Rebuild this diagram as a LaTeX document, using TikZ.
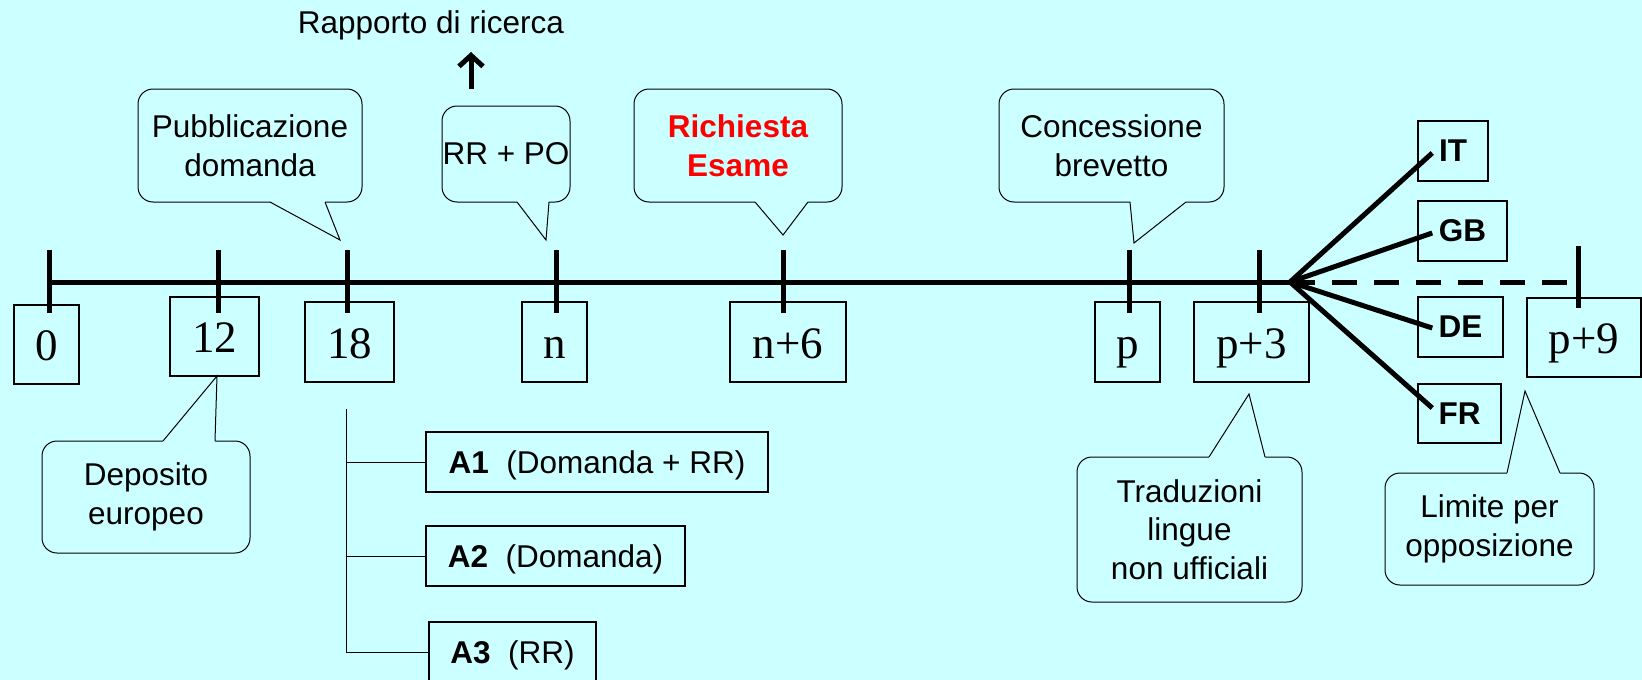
\documentclass[tikz,border=0pt]{standalone}
\usepackage{fontspec}
\setmainfont{Liberation Sans}
\newfontfamily\timesfont{Liberation Serif}
\usetikzlibrary{positioning,calc,arrows.meta}
\definecolor{sfondo}{RGB}{204,255,255}
\tikzset{
	balloon/.style={draw,line width=1pt,rounded corners=15pt,align=center,inner sep=0pt,font=\fontsize{31.5}{38.5}\selectfont},
	mese/.style={draw,line width=1.5pt,inner sep=0pt,text height=32pt,text depth=0pt,font=\timesfont\fontsize{45}{54}\selectfont},
	paese/.style={draw,line width=1.5pt,inner sep=0pt,minimum height=60pt,font=\fontsize{31.5}{38}\selectfont\bfseries},
	sigla/.style={draw,line width=1.5pt,inner sep=0pt,minimum height=60pt,text height=22pt,text depth=0pt,font=\fontsize{31.5}{38}\selectfont},
	asse/.style={line width=5pt},
	tacca/.style={line width=5pt},
	filo/.style={line width=1pt},
	ptr/.style={line width=1pt},
	freccia/.style={line width=5pt,-{Straight Barb[length=11pt,width=24pt]}}
}
% pointer of a balloon: base left, base right, tip, shift into the balloon
\newcommand{\punta}[4]{%
	\fill[sfondo] ($(#1)+(0,#4)$) -- (#1) -- (#3) -- (#2) -- ($(#2)+(0,#4)$) -- cycle;
	\draw[ptr] (#1) -- (#3) -- (#2);}
\begin{document}
\begin{tikzpicture}[x=1pt,y=-1pt]
	\fill[sfondo] (0,0) rectangle (1642,680);
	\useasboundingbox (0,0) rectangle (1642,680);

	%months
	\node[mese,minimum width=65pt,minimum height=79pt] (m0) at (46.5,344.5) {0};
	\node[mese,minimum width=89pt,minimum height=79pt] (m12) at (214.5,336.5) {12};
	\node[mese,minimum width=89pt,minimum height=80pt] (m18) at (349.5,342) {18};
	\node[mese,minimum width=65pt,minimum height=80pt] (mn) at (554.5,342) {n};
	\node[mese,minimum width=116pt,minimum height=80pt] (mn6) at (788,342) {n+6};
	\node[mese,minimum width=65pt,minimum height=80pt] (mp) at (1127.5,342) {p};
	\node[mese,minimum width=115pt,minimum height=80pt] (mp3) at (1251.5,342) {p+3};
	\node[mese,minimum width=114pt,minimum height=79pt] (mp9) at (1584,337.5) {p+9};

	%axis
	\coordinate (inizio) at (49,282);
	\coordinate (fan) at (1290,282);
	\coordinate (fine) at (1567,282);
	\draw[asse] (inizio) -- (fan);
	\draw[asse,dash pattern=on 25pt off 17pt] (fan) -- (fine);
	\foreach \x in {49,218,347,556,783,1129,1259}{
		\draw[tacca] (\x,250) -- (\x,313);
	}
	\draw[tacca] (1578,246) -- (1578,308);

	%balloons
	\node[balloon,minimum width=224pt,minimum height=113pt] (pubbl) at (250,145.5) {Pubblicazione\\domanda};
	\node[balloon,minimum width=128pt,minimum height=96pt] (rrpo) at (506,154) {RR + PO};
	\node[balloon,minimum width=208pt,minimum height=113pt,text=red,font=\fontsize{31.5}{38.5}\selectfont\bfseries] (esame) at (738,145.5) {Richiesta\\Esame};
	\node[balloon,minimum width=225pt,minimum height=113pt] (conc) at (1111.5,145.5) {Concessione\\brevetto};
	\node[balloon,minimum width=208pt,minimum height=112pt] (depos) at (146,497) {Deposito\\europeo};
	\node[balloon,minimum width=225pt,minimum height=145pt] (tradu) at (1189.5,529.5) {Traduzioni\\lingue\\non ufficiali};
	\node[balloon,minimum width=209pt,minimum height=112pt] (limite) at (1489.5,529) {Limite per\\opposizione};
	\punta{270,202}{325,202}{340,240}{-2}
	\punta{517,202}{549,202}{546,240}{-2}
	\punta{755,202}{808,202}{783,235}{-2}
	\punta{1130,202}{1186,202}{1134,243}{-2}
	\punta{163,441}{215,441}{217,376}{2}
	\punta{1209,457}{1265,457}{1249,394}{2}
	\punta{1507,473}{1560,473}{1525,391}{2}

	%search report
	\node[inner sep=0pt,font=\fontsize{31.5}{38}\selectfont] (rapp) at (431,25) {Rapporto di ricerca};
	\coordinate (rrbase) at (471,89);
	\coordinate (rrtip) at (471,52);
	\draw[freccia] (rrbase) -- (rrtip);

	%countries
	\node[paese,minimum width=70pt] (it) at (1453,151) {IT};
	\node[paese,minimum width=89pt] (gb) at (1462.5,231) {GB};
	\node[paese,minimum width=85pt] (de) at (1460.5,327) {DE};
	\node[paese,minimum width=83pt,minimum height=59pt] (fr) at (1459.5,413.5) {FR};
	\foreach \c/\dy in {it/2,gb/2,de/1,fr/-5.5}{
		\draw[asse] (fan) -- ($(\c.west)+(15,\dy)$);
	}

	%publications
	\node[sigla,minimum width=342pt] (a1) at (597,462) {\textbf{A1}\ \ (Domanda + RR)};
	\node[sigla,minimum width=259pt] (a2) at (555.5,556) {\textbf{A2}\ \ (Domanda)};
	\node[sigla,minimum width=167pt] (a3) at (512.5,652) {\textbf{A3}\ \ (RR)};
	\coordinate (ramo) at (346,409);
	\draw[filo] (ramo) -- (ramo |- a3.west);
	\foreach \a in {a1,a2,a3}{
		\draw[filo] (ramo |- \a.west) -- (\a.west);
	}
\end{tikzpicture}
\end{document}
